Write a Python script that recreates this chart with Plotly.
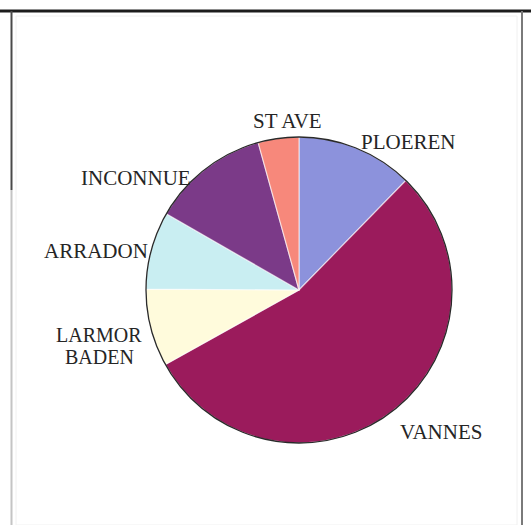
import plotly.graph_objects as go

# Share of records by commune (percent)
communes = ["PLOEREN", "VANNES", "LARMOR<br>BADEN", "ARRADON", "INCONNUE", "ST AVE"]
shares = [12.3, 54.6, 8.2, 8.2, 12.4, 4.3]
slice_colors = ["#8c92dc", "#9b1b5c", "#fffbdc", "#c9eef2", "#7b3a88", "#f7887b"]

W, H = 531, 525
cx, cy, r = 299, 290, 153  # pie centre and radius in pixels

dom_x = [(cx - r) / W, (cx + r) / W]
dom_y = [(H - cy - r) / H, (H - cy + r) / H]

fig = go.Figure()
fig.add_trace(go.Pie(
    labels=communes, values=shares, sort=False, direction="clockwise", rotation=0,
    marker=dict(colors=slice_colors, line=dict(color="rgba(255,255,255,0.6)", width=1.2)),
    textinfo="none", hoverinfo="label+percent", showlegend=False,
    domain=dict(x=dom_x, y=dom_y),
))
# outer rim of the pie
fig.add_trace(go.Pie(
    values=[1], labels=[""], sort=False, textinfo="none", hoverinfo="skip", showlegend=False,
    marker=dict(colors=["rgba(0,0,0,0)"], line=dict(color="#2a2a2a", width=1.3)),
    domain=dict(x=dom_x, y=dom_y),
))

# label placement (pixel centre of the text block) for each commune
label_pos = {
    "PLOEREN": (408, 142),
    "VANNES": (441, 432),
    "LARMOR<br>BADEN": (99, 346),
    "ARRADON": (96, 251),
    "INCONNUE": (136, 178),
    "ST AVE": (287, 121),
}
line_gap = 22  # pixels between stacked label lines
for name in communes:
    px, py = label_pos[name]
    lines = name.split("<br>")
    top = py - line_gap * (len(lines) - 1) / 2
    for i, line in enumerate(lines):
        fig.add_annotation(
            x=px / W, y=1 - (top + i * line_gap) / H, xref="paper", yref="paper",
            text=line, showarrow=False,
            font=dict(family="Liberation Serif", size=21 if len(lines) == 1 else 20, color="#252525"),
            xanchor="center", yanchor="middle",
        )

# frame lines around the chart area
shapes = [
    dict(type="line", xref="paper", yref="paper", x0=0, x1=1, y0=1 - 11 / H, y1=1 - 11 / H,
         line=dict(color="#1c1c1c", width=3)),
    dict(type="line", xref="paper", yref="paper", x0=11.5 / W, x1=11.5 / W, y0=1 - 11 / H, y1=1 - 190 / H,
         line=dict(color="#4a4a4a", width=2)),
    dict(type="line", xref="paper", yref="paper", x0=11.5 / W, x1=11.5 / W, y0=1 - 190 / H, y1=0,
         line=dict(color="#c4c4c4", width=2)),
    dict(type="line", xref="paper", yref="paper", x0=522 / W, x1=522 / W, y0=1 - 11 / H, y1=0,
         line=dict(color="#7a7a7a", width=2)),
    dict(type="rect", xref="paper", yref="paper", x0=16 / W, x1=517 / W, y0=0.0, y1=1 - 16 / H,
         line=dict(color="#f0f0f0", width=1)),
]

fig.update_layout(
    width=W, height=H, margin=dict(l=0, r=0, t=0, b=0),
    paper_bgcolor="white", plot_bgcolor="white", shapes=shapes,
)

fig.write_html("out.html")
